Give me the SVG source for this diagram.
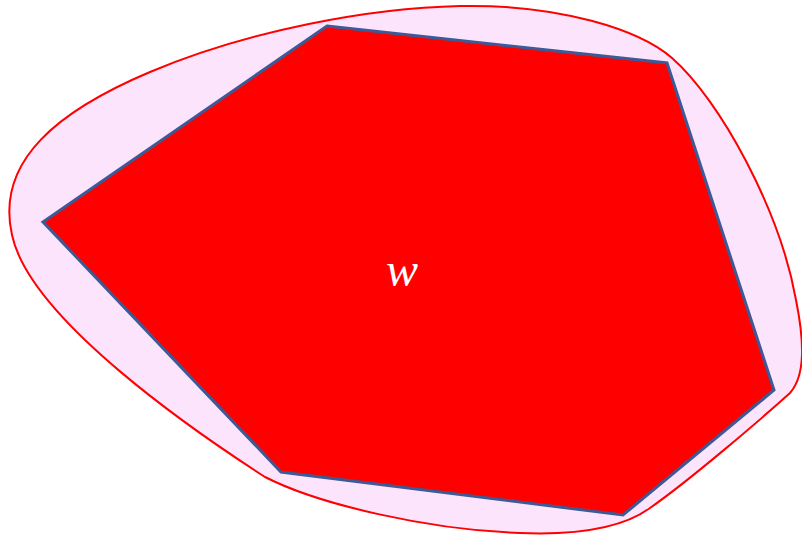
<svg xmlns="http://www.w3.org/2000/svg" width="802" height="539" viewBox="0 0 802 539">
<style>
.blob{fill:#fde4fd;stroke:#ff0000;stroke-width:2}
.poly{fill:#ff0000;stroke:#3d5a96;stroke-width:3;stroke-linejoin:miter}
.lbl{font-family:"Liberation Serif","DejaVu Serif",serif;font-style:italic;font-size:48px;fill:#ffffff}
</style>
<rect width="802" height="539" fill="#ffffff"/>
<g id="region">
<path class="blob" d="M 265,477 C 200,435 30,320 12,235 C -5,160 60,110 150,72 C 250,30 370,8 460,6 C 560,4 640,30 672,58 C 720,100 780,210 796,300 C 804,340 806,375 790,393 C 760,420 690,480 650,508 C 620,530 570,535 520,533 C 430,530 320,505 265,477 Z"/>
</g>
<g id="polygon-w">
<polygon class="poly" points="327,26 667,63 774,390 623,515 281,472 43,222"/>
<text class="lbl" x="402" y="286" text-anchor="middle">w</text>
</g>
</svg>
